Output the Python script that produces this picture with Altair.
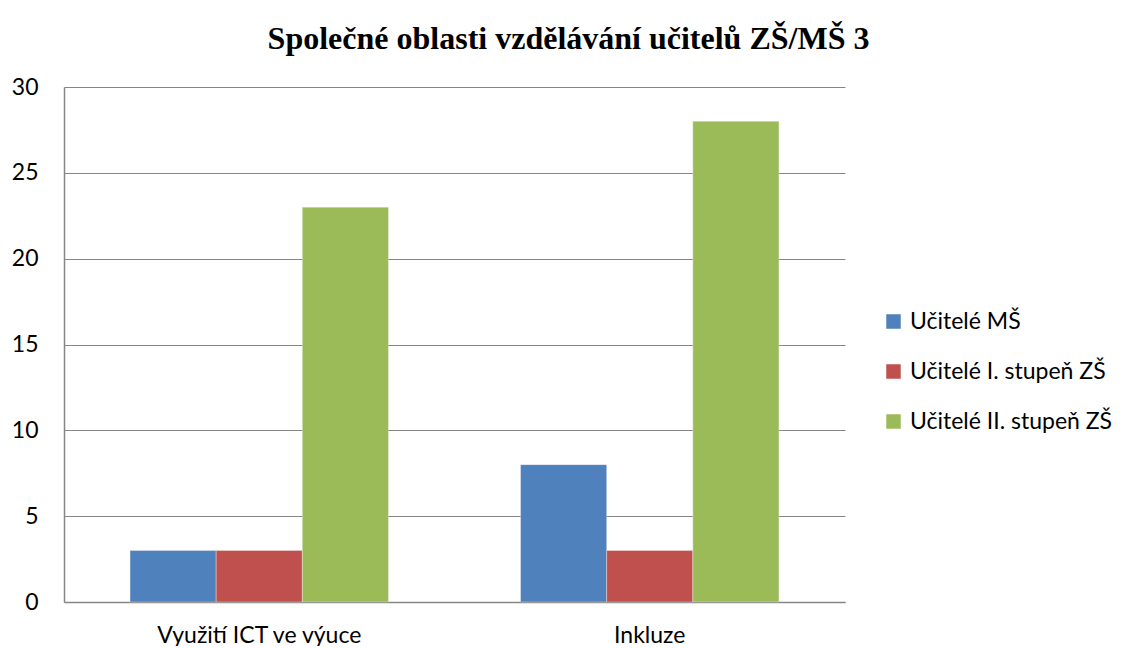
import altair as alt
import pandas as pd

categories = ["Využití ICT ve výuce", "Inkluze"]
series = ["Učitelé MŠ", "Učitelé I. stupeň ZŠ", "Učitelé II. stupeň ZŠ"]
values_ms = [3, 8]
values_zs1 = [3, 3]
values_zs2 = [23, 28]
colors = ["#4F81BD", "#C0504D", "#9BBB59"]
y_ticks = [0, 5, 10, 15, 20, 25, 30]

rows = []
for s, vals in zip(series, [values_ms, values_zs1, values_zs2]):
    for c, v in zip(categories, vals):
        rows.append({"kategorie": c, "skupina": s, "hodnota": v})
df = pd.DataFrame(rows)

FONT = "Lato"

chart = alt.Chart(df).mark_bar(stroke="#f4f4f4", strokeWidth=0.6, strokeOpacity=0.6).encode(
    x=alt.X("kategorie:N", sort=categories, title=None,
            scale=alt.Scale(paddingInner=0, paddingOuter=0),
            axis=alt.Axis(labelAngle=0, ticks=False, domain=True, domainColor="#868686",
                          domainWidth=1.5, labelFont=FONT, labelFontSize=23, labelColor="#000",
                          labelPadding=22, grid=False, labelLimit=400)),
    xOffset=alt.XOffset("skupina:N", sort=series,
                        scale=alt.Scale(paddingInner=0, paddingOuter=0.767)),
    y=alt.Y("hodnota:Q", title=None,
            scale=alt.Scale(domain=[0, 30], nice=False),
            axis=alt.Axis(values=y_ticks, ticks=False, domain=True, domainColor="#868686",
                          domainWidth=1.5, grid=True, gridColor="#868686", gridWidth=1.2,
                          labelFont=FONT, labelFontSize=23, labelColor="#000", labelPadding=26)),
    color=alt.Color("skupina:N", sort=series, title=None,
                    scale=alt.Scale(domain=series, range=colors),
                    legend=alt.Legend(orient="none", legendX=818, legendY=223,
                                      symbolType="square", symbolSize=210, symbolStrokeWidth=0,
                                      labelFont=FONT, labelFontSize=23, labelColor="#000",
                                      labelOffset=5, rowPadding=26, padding=0, labelLimit=300)),
).properties(
    width=781, height=515,
    title=alt.TitleParams("Společné oblasti vzdělávání učitelů ZŠ/MŠ 3",
                          font="Liberation Serif", fontSize=32, fontWeight="bold",
                          color="#000", anchor="middle", dx=114, offset=20),
    autosize=alt.AutoSizeParams(type="none"),
    padding={"left": 56, "top": 79, "right": 270, "bottom": 44},
).configure_view(stroke=None)

chart.save("out.html", embed_options={"renderer": "svg", "actions": False})
